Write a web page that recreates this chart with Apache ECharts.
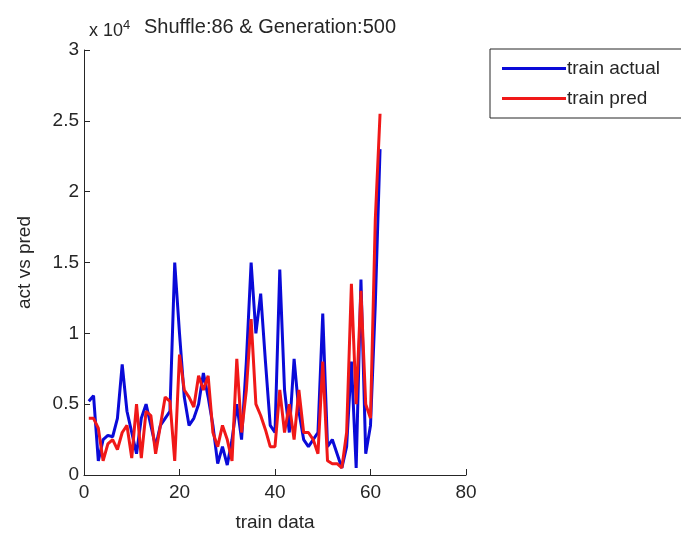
<!DOCTYPE html>
<html>
<head>
<meta charset="utf-8">
<script src="https://cdn.jsdelivr.net/npm/echarts@6/dist/echarts.min.js"></script>
<style>html,body{margin:0;padding:0;background:#fff}#c{width:681px;height:537px}</style>
</head>
<body>
<div id="c"></div>
<script>
const xIndex = [1,2,3,4,5,6,7,8,9,10,11,12,13,14,15,16,17,18,19,20,21,22,23,24,25,26,27,28,29,30,31,32,33,34,35,36,37,38,39,40,41,42,43,44,45,46,47,48,49,50,51,52,53,54,55,56,57,58,59,60,61,62];
const trainActual = [5200,5600,1000,2500,2800,2700,4000,7800,4500,3000,1500,4000,5000,3500,2000,3500,4000,4500,15000,10000,5500,3500,4000,5000,7200,5500,3500,800,2000,700,2500,5000,2500,8000,15000,10000,12800,8000,3500,3000,14500,6000,3000,8200,4500,2500,2000,2500,3000,11400,2000,2500,1500,500,2000,8000,500,13800,1500,3500,12000,23000];
const trainPred = [4000,4000,3300,1000,2200,2500,1800,3000,3500,1200,5000,1200,4500,4200,1500,3500,5500,5200,1000,8500,6000,5500,4800,7000,6000,7000,3000,2000,3500,2500,1000,8200,3000,6000,11000,5000,4200,3200,2000,2000,6000,3000,5000,2500,6000,3000,3000,2500,1500,8000,1000,800,800,500,3000,13500,5000,13000,5000,4000,18000,25500];
const xTicks = [0,20,40,60,80];
const yTicks = [0,0.5,1,1.5,2,2.5,3];
const seriesNames = ['train actual','train pred'];

const font = "'Liberation Sans Narrow','Liberation Sans',Arial,sans-serif";
const axisColor = '#262626';
const chart = echarts.init(document.getElementById('c'), null, {renderer:'canvas'});
chart.setOption({
  animation:false,
  backgroundColor:'#ffffff',
  title:[
    {text:'x 10{s|4}', left:84, top:14, textStyle:{fontFamily:font,fontSize:18,fontWeight:'normal',color:'#262626',rich:{s:{fontFamily:font,fontSize:13,verticalAlign:'top',padding:[0,0,12,0],color:'#262626'}}}},
    {text:'Shuffle:86 & Generation:500', left:139, top:12, textStyle:{fontFamily:font,fontSize:20,fontWeight:'normal',color:'#262626'}}
  ],
  legend:{
    data:seriesNames, left:490, top:49, orient:'vertical',
    itemWidth:64, itemHeight:3, itemGap:11, padding:[10,30,10,12],
    borderColor:'#262626', borderWidth:1, backgroundColor:'#fff',
    icon:'rect',
    textStyle:{fontFamily:font,fontSize:19,color:'#262626',padding:[0,0,0,-4]}
  },
  grid:{left:84,right:215,top:50,bottom:57,containLabel:false},
  xAxis:{
    type:'value', min:0, max:80, interval:20,
    name:'train data', nameLocation:'middle', nameGap:38,
    nameTextStyle:{fontFamily:font,fontSize:19,color:'#262626'},
    axisLine:{show:true,onZero:false,lineStyle:{color:axisColor,width:1}},
    axisTick:{show:true,inside:true,length:6,lineStyle:{color:axisColor}},
    axisLabel:{fontFamily:font,fontSize:19,color:'#262626',margin:8,formatter:v=>xTicks.includes(v)?String(v):''},
    splitLine:{show:false}
  },
  yAxis:{
    type:'value', min:0, max:30000, interval:5000,
    name:'act vs pred', nameLocation:'middle', nameGap:50,
    nameTextStyle:{fontFamily:font,fontSize:19,color:'#262626'},
    axisLine:{show:true,lineStyle:{color:axisColor,width:1}},
    axisTick:{show:true,inside:true,length:6,lineStyle:{color:axisColor}},
    axisLabel:{fontFamily:font,fontSize:19,color:'#262626',margin:5,formatter:v=>{const t=v/10000;return yTicks.includes(t)?String(t):'';}},
    splitLine:{show:false}
  },
  series:[
    {name:seriesNames[0], type:'line', data:xIndex.map((x,i)=>[x,trainActual[i]]), showSymbol:false, symbol:'none', lineStyle:{color:'#0a0ad8',width:3}, itemStyle:{color:'#0a0ad8'}},
    {name:seriesNames[1], type:'line', data:xIndex.map((x,i)=>[x,trainPred[i]]), showSymbol:false, symbol:'none', lineStyle:{color:'#f01818',width:3}, itemStyle:{color:'#f01818'}}
  ]
});
</script>
</body>
</html>
